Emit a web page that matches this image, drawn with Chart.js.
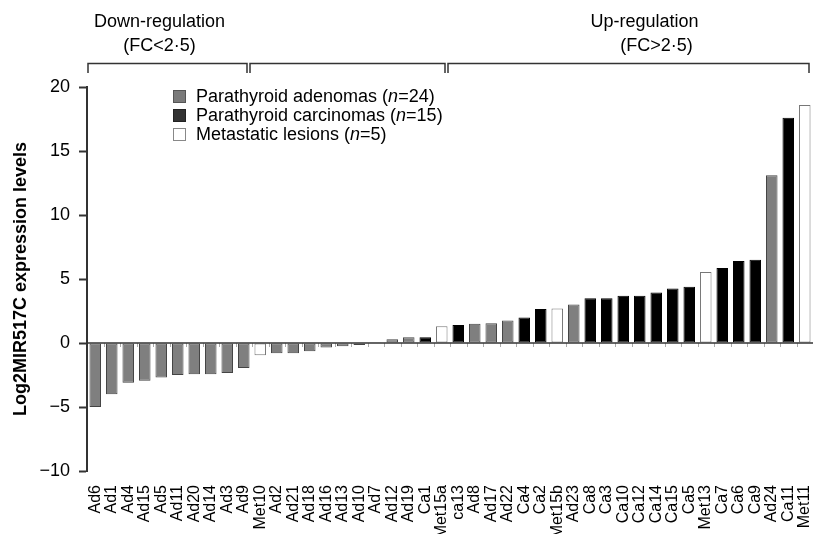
<!DOCTYPE html>
<html>
<head>
<meta charset="utf-8">
<script src="https://cdn.jsdelivr.net/npm/chart.js@4.4.1/dist/chart.umd.min.js"></script>
<style>
  body { margin: 0; background: #fff; }
  #wrap { position: relative; width: 813px; height: 534px; overflow: hidden; }
  #legend { position: absolute; left: 173px; top: 87px; font: 18px 'Liberation Sans', Arial, sans-serif; color: #000; }
  #legend div { height: 19px; line-height: 19px; white-space: nowrap; }
  #legend span.sw { display: inline-block; width: 13px; height: 13px; vertical-align: -1px; margin-right: 10px; box-sizing: border-box; }
</style>
</head>
<body>
<div id="wrap">
  <canvas id="chart" width="813" height="534"></canvas>
  <div id="legend">
    <div><span class="sw" style="background:#7a7a7a;border:1px solid #555"></span>Parathyroid adenomas (<i>n</i>=24)</div>
    <div><span class="sw" style="background:#333;border:1px solid #222"></span>Parathyroid carcinomas (<i>n</i>=15)</div>
    <div><span class="sw" style="background:#fff;border:1px solid #888"></span>Metastatic lesions (<i>n</i>=5)</div>
  </div>
</div>
<script>
// Log2 MIR517C expression per sample

const samples = ['Ad6', 'Ad1', 'Ad4', 'Ad15', 'Ad5', 'Ad11', 'Ad20', 'Ad14', 'Ad3', 'Ad9',
  'Met10', 'Ad2', 'Ad21', 'Ad18', 'Ad16', 'Ad13', 'Ad10', 'Ad7', 'Ad12', 'Ad19', 'Ca1', 'Met15a',
  'ca13', 'Ad8', 'Ad17', 'Ad22', 'Ca4', 'Ca2', 'Met15b', 'Ad23', 'Ca8', 'Ca3', 'Ca10', 'Ca12',
  'Ca14', 'Ca15', 'Ca5', 'Met13', 'Ca7', 'Ca6', 'Ca9', 'Ad24', 'Ca11', 'Met11'];

const expression = [-5.0, -4.0, -3.1, -2.95, -2.7, -2.5, -2.45, -2.45, -2.35, -1.95,
  -0.95, -0.8, -0.8, -0.65, -0.35, -0.25, -0.15, 0.05, 0.3, 0.45, 0.45, 1.3,
  1.4, 1.5, 1.55, 1.75, 2.0, 2.65, 2.7, 3.0, 3.5, 3.5, 3.7, 3.7,
  3.95, 4.25, 4.4, 5.55, 5.85, 6.4, 6.5, 13.1, 17.6, 18.6];

const yTicks = [-10, -5, 0, 5, 10, 15, 20];

// groups of bars under the brackets: [first index, last index, label lines]
const brackets = [
  [0, 9, ['Down-regulation', '(FC<2\u00b75)']],
  [10, 21, []],
  [22, 43, ['Up-regulation', '(FC>2\u00b75)']]
];

const FONT = "'Liberation Sans', Arial, sans-serif";

function groupOf(name) {
  if (name.startsWith('Met')) return 'met';
  if (name.toLowerCase().startsWith('ca')) return 'ca';
  return 'ad';
}

const fills = { ad: '#7f7f7f', ca: '#000000', met: '#ffffff' };
const edges = { ad: '#444444', ca: '#000000', met: '#777777' };

const groups = samples.map(groupOf);

const zeroLine = {
  id: 'zeroLine',
  afterDatasetsDraw(chart) {
    const { ctx, chartArea, scales } = chart;
    const y0 = scales.y.getPixelForValue(0);
    const step = scales.x.getPixelForValue(1) - scales.x.getPixelForValue(0);
    ctx.save();
    ctx.strokeStyle = '#aaa';
    ctx.lineWidth = 1;
    for (let i = 1; i < samples.length; i++) {
      const x = Math.round(scales.x.getPixelForValue(i) - step / 2) + 0.5;
      ctx.beginPath();
      ctx.moveTo(x, y0);
      ctx.lineTo(x, y0 + 4);
      ctx.stroke();
    }
    ctx.strokeStyle = '#333';
    ctx.lineWidth = 1.5;
    ctx.beginPath();
    ctx.moveTo(chartArea.left, y0);
    ctx.lineTo(chartArea.right, y0);
    ctx.stroke();
    ctx.restore();
  }
};

const bracketPlugin = {
  id: 'brackets',
  afterDraw(chart) {
    const { ctx, chartArea, scales } = chart;
    const step = scales.x.getPixelForValue(1) - scales.x.getPixelForValue(0);
    const lineY = 63.5, dropY = 73;
    ctx.save();
    ctx.strokeStyle = '#333';
    ctx.lineWidth = 1.5;
    ctx.fillStyle = '#000';
    ctx.font = '18px ' + FONT;
    ctx.textAlign = 'center';
    ctx.textBaseline = 'alphabetic';
    brackets.forEach(([a, b, text], k) => {
      let x1 = scales.x.getPixelForValue(a) - step / 2 - 2;
      if (k === 0) x1 = chartArea.left + 1;
      let x2 = scales.x.getPixelForValue(b) + step / 2 - 5;
      if (k === brackets.length - 1) x2 = scales.x.getPixelForValue(b) + step / 2 - 4;
      ctx.beginPath();
      ctx.moveTo(x1, dropY);
      ctx.lineTo(x1, lineY);
      ctx.lineTo(x2, lineY);
      ctx.lineTo(x2, dropY);
      ctx.stroke();
      if (text.length) {
        const mid = k === 0 ? (x1 + x2) / 2 - 8 : (x1 + x2) / 2 + 16;
        ctx.fillText(text[0], mid, 27);
        ctx.fillText(text[1], mid + (k === 0 ? 0 : 12), 51);
      }
    });
    ctx.restore();
  }
};

new Chart(document.getElementById('chart'), {
  type: 'bar',
  data: {
    labels: samples,
    datasets: [{
      data: expression,
      backgroundColor: groups.map(g => fills[g]),
      borderColor: groups.map(g => edges[g]),
      borderWidth: 1,
      borderSkipped: false,
      barPercentage: 0.7,
      categoryPercentage: 1
    }]
  },
  options: {
    responsive: false,
    animation: false,
    layout: { padding: { top: 87, left: 0, right: 0, bottom: 0 } },
    plugins: {
      legend: { display: false },
      tooltip: { enabled: false }
    },
    scales: {
      x: {
        grid: { display: false, drawTicks: false },
        border: { display: false },
        ticks: {
          autoSkip: false, maxRotation: 90, minRotation: 90,
          color: '#000', padding: 14,
          font: { family: FONT, size: 16 }
        },
        afterFit: s => { s.height = 63; s.paddingLeft = 0; s.paddingRight = 0; }
      },
      y: {
        min: yTicks[0],
        max: yTicks[yTicks.length - 1],
        afterBuildTicks: s => { s.ticks = yTicks.map(v => ({ value: v })); },
        ticks: {
          color: '#000', padding: 9,
          font: { family: FONT, size: 18 },
          callback: v => String(v).replace('-', '\u2212')
        },
        grid: { drawOnChartArea: false, tickLength: 8, tickColor: '#333', tickWidth: 2 },
        border: { color: '#333', width: 2 },
        title: {
          display: true,
          text: 'Log2MIR517C expression levels',
          color: '#000',
          font: { family: FONT, size: 18, weight: 'bold' },
          padding: { top: 10, bottom: 0 }
        },
        afterFit: s => { s.width = 87; }
      }
    }
  },
  plugins: [zeroLine, bracketPlugin]
});
</script>
</body>
</html>
